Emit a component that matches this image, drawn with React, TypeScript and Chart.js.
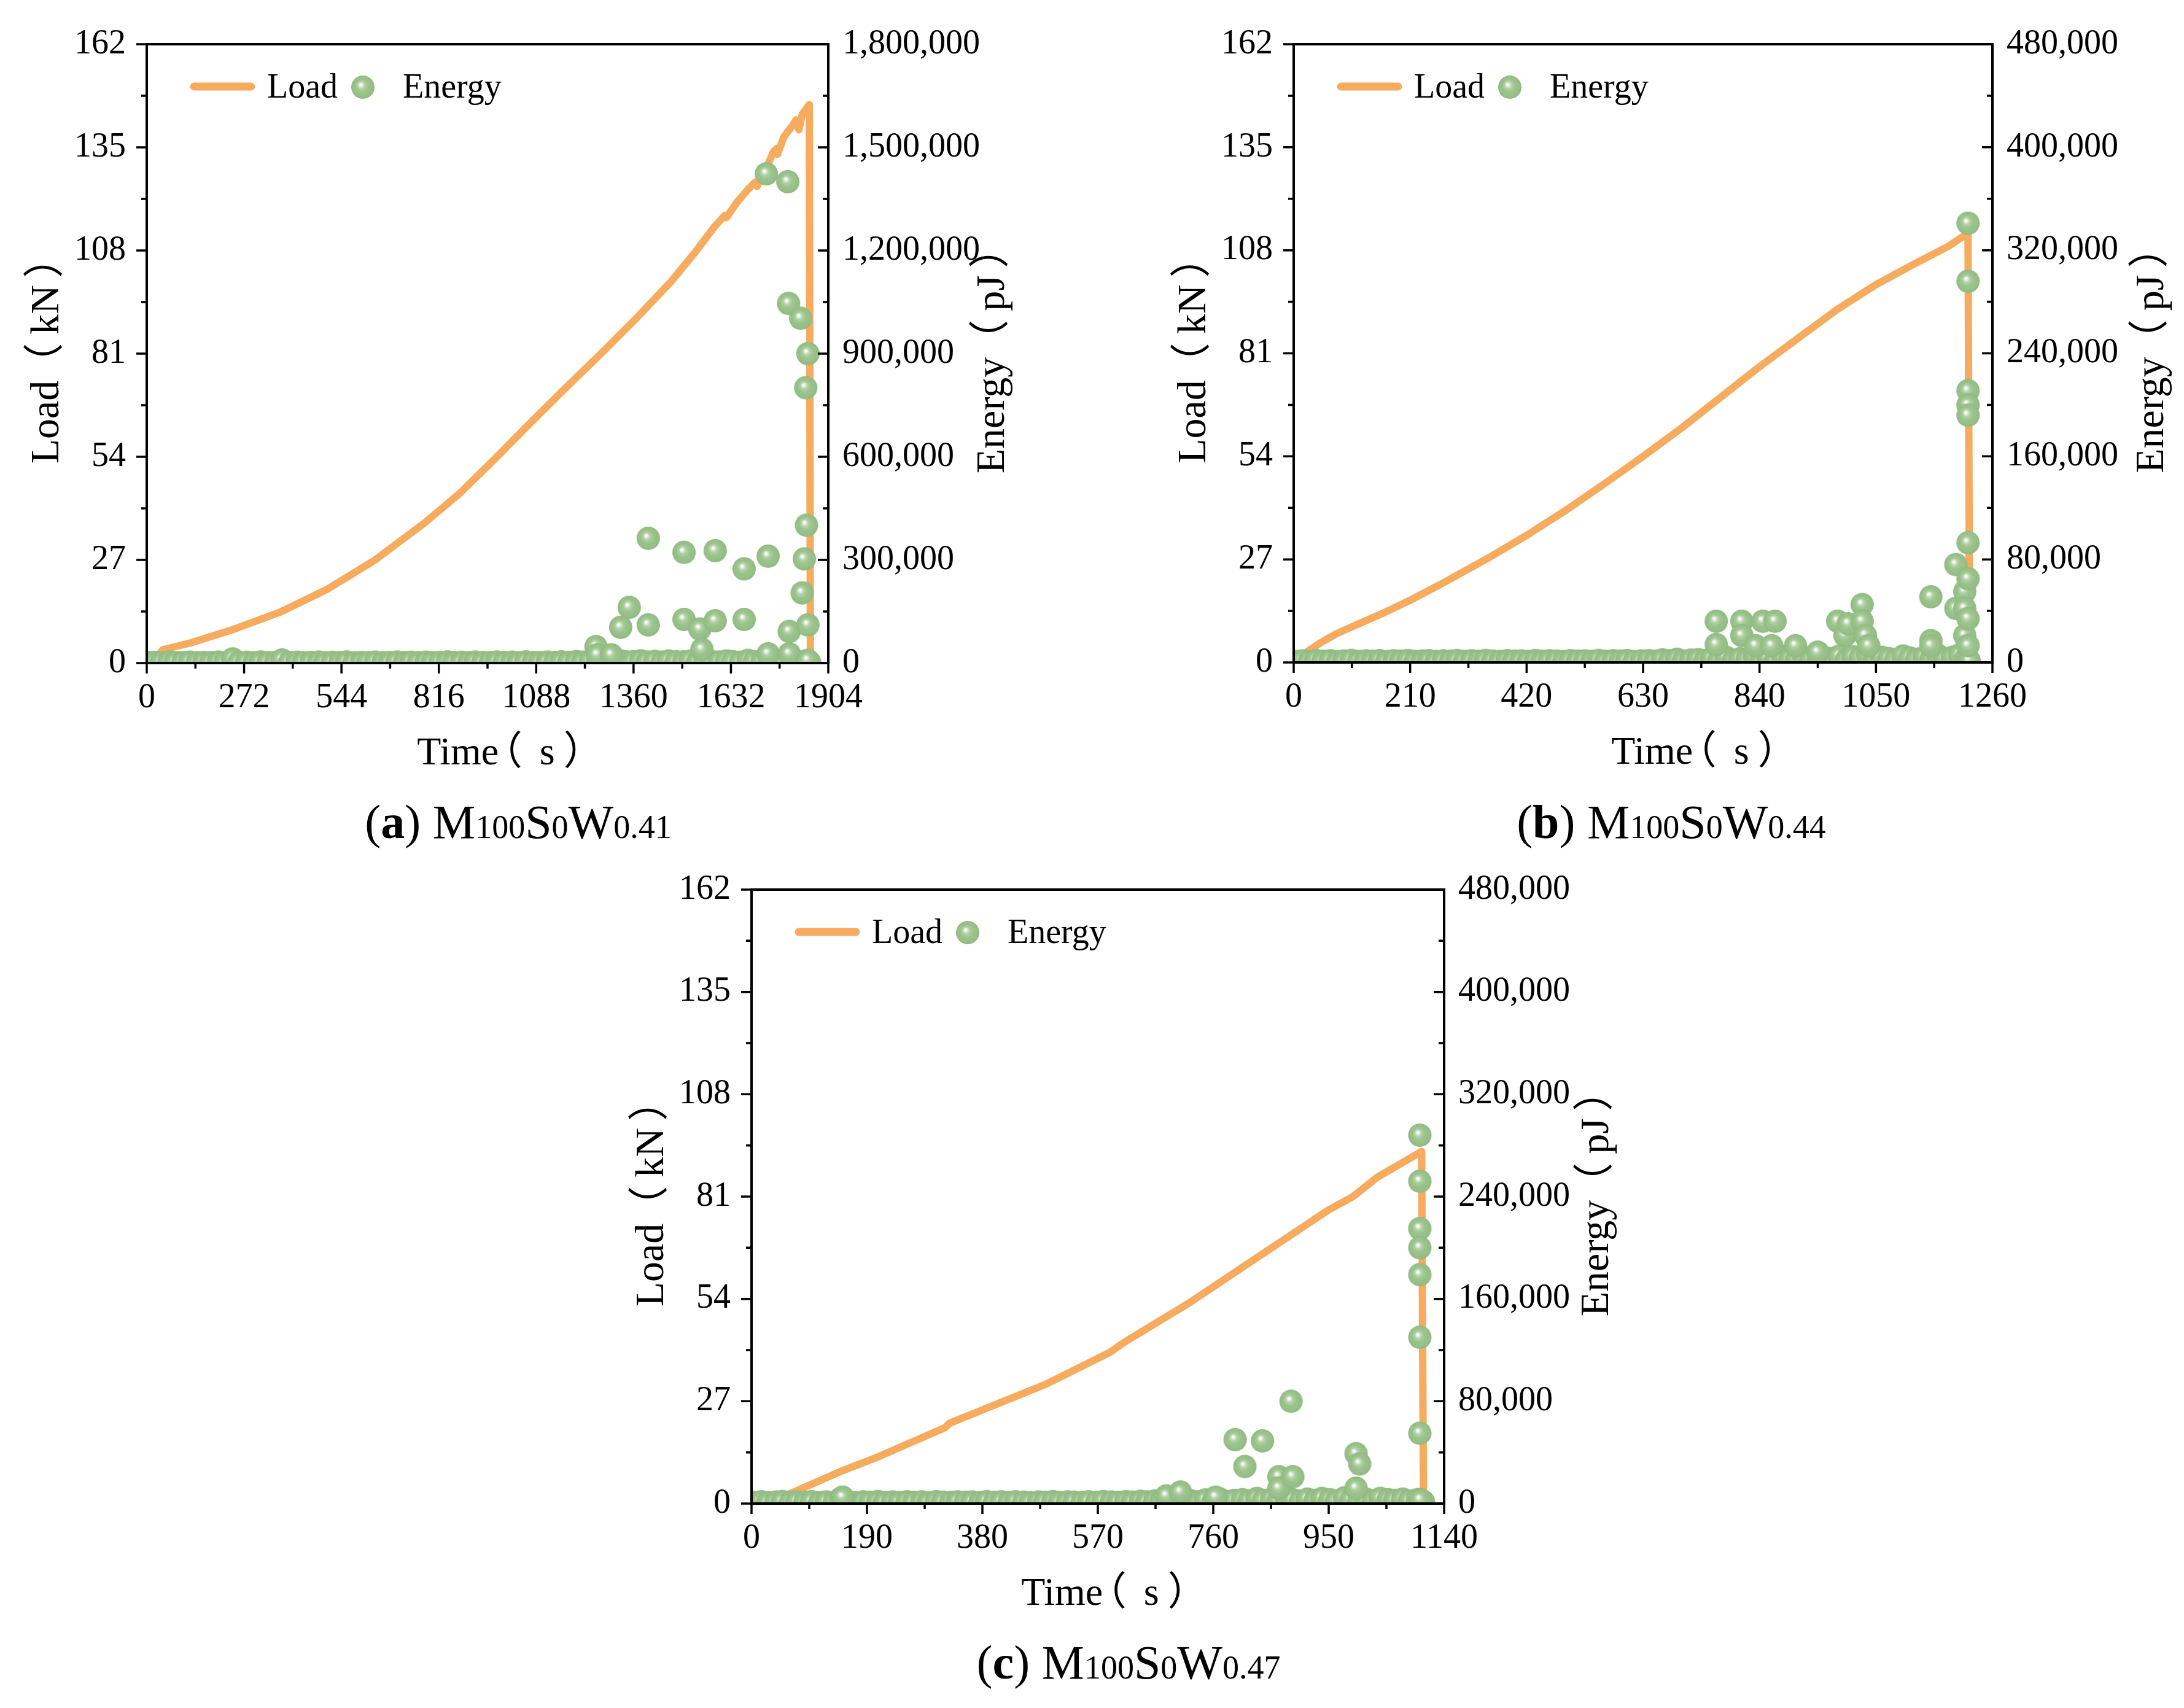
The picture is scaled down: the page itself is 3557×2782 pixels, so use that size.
import React, { useEffect, useRef } from 'react';
import { Chart, registerables } from 'chart.js';

Chart.register(...registerables);

const FONT_FAMILY = '"Liberation Serif", "Noto Sans CJK SC", serif';
const LATIN_FONT = '"Liberation Serif"';
const CJK_FONT = '"Noto Sans CJK SC"';
const ORANGE = '#F7AB5E';
const MAJOR = 17;
const MINOR = 9;
const SPHERE_R = 19;

// ---------- Panel (a) M100S0W0.41 ----------
const loadTimeA = [15, 45, 123, 242, 372, 504, 635, 775, 874, 973, 1071, 1170, 1269, 1367, 1466, 1530, 1585, 1615, 1619, 1648, 1677, 1700, 1705, 1734, 1751, 1760, 1762, 1780, 1803, 1814, 1822, 1831, 1851, 1854];
const loadValueA = [0, 3.5, 5.3, 8.8, 13.3, 19.3, 26.8, 36.6, 44.4, 53.5, 62.8, 72.0, 81.0, 90.2, 100.0, 107.3, 114.1, 117.2, 116.6, 120.5, 123.7, 125.9, 124.8, 130.2, 133.9, 134.7, 133.2, 137.7, 140.6, 142.2, 139.6, 143.6, 146.2, 0];
const bandTimeA = [3, 22, 41, 62, 80, 101, 120, 141, 160, 179, 200, 219, 240, 258, 279, 300, 318, 339, 360, 378, 399, 420, 438, 459, 480, 498, 519, 540, 558, 579, 600, 618, 639, 660, 678, 699, 720, 738, 759, 780, 798, 819, 840, 858, 879, 900, 918, 939, 960, 978, 999, 1020, 1038, 1059, 1080, 1098, 1119, 1140, 1158, 1179, 1200, 1218, 1239, 1260, 1278, 1299, 1320, 1338, 1359, 1380, 1398, 1419, 1440, 1458, 1479, 1500, 1518, 1539, 1560, 1578, 1599, 1620, 1638, 1659, 1680, 1698, 1719, 1740, 1758, 1779, 1800, 1818, 1839, 1852];
const bandEnergyA = [1500, 2200, 900, 3000, 1800, 1200, 2600, 1000, 2000, 1400, 2800, 1100, 12000, 1700, 2400, 900, 3100, 1300, 2000, 9000, 1500, 2500, 1000, 1900, 2900, 1200, 2200, 1600, 3200, 1000, 2000, 1400, 2700, 1100, 1800, 3000, 1300, 2300, 1700, 2600, 1000, 2100, 3300, 1500, 2400, 1100, 2800, 1900, 1300, 3100, 1600, 2500, 1200, 3400, 2000, 1400, 2900, 1800, 3600, 2200, 4500, 2600, 6000, 3000, 5500, 2500, 7000, 3500, 4000, 6500, 3000, 5000, 2500, 6000, 4000, 3500, 5500, 2000, 7000, 4500, 3000, 6000, 4000, 2500, 8000, 3500, 5000, 4500, 6500, 3000, 7000, 4000, 5000, 2000];
const peakTimeA = [1255, 1259, 1298, 1324, 1348, 1401, 1401, 1501, 1501, 1545, 1551, 1588, 1588, 1669, 1669, 1731, 1736, 1736, 1791, 1793, 1795, 1795, 1827, 1831, 1837, 1841, 1843, 1847, 1847, 1847];
const peakEnergyA = [48000, 24000, 24000, 104000, 162000, 363000, 111000, 322000, 127000, 99000, 40000, 327000, 123000, 274000, 127000, 1423000, 311000, 27000, 1400000, 1046000, 92000, 27000, 1003000, 204000, 303000, 801000, 401000, 900000, 111000, 8000];

// ---------- Panel (b) M100S0W0.44 ----------
const loadTimeB = [8, 25, 50, 78, 100, 158, 210, 269, 350, 420, 490, 560, 630, 700, 770, 840, 910, 980, 1050, 1120, 1180, 1216, 1219];
const loadValueB = [0, 2.9, 5.3, 7.6, 9.0, 12.7, 16.3, 20.8, 27.3, 33.3, 39.8, 46.8, 54.0, 61.5, 69.5, 77.5, 85.0, 92.5, 99.0, 104.5, 109.0, 112.5, 0];
const bandTimeB = [2, 15, 28, 40, 53, 66, 79, 91, 104, 117, 130, 142, 155, 168, 181, 193, 206, 219, 232, 244, 257, 270, 283, 295, 308, 321, 334, 346, 359, 372, 385, 397, 410, 423, 436, 448, 461, 474, 487, 499, 512, 525, 538, 550, 563, 576, 589, 601, 614, 627, 640, 652, 665, 678, 691, 703, 716, 729, 742, 754, 767, 780, 793, 805, 818, 831, 844, 856, 869, 882, 895, 907, 920, 933, 946, 958, 971, 984, 997, 1009, 1022, 1035, 1048, 1060, 1073, 1086, 1099, 1111, 1124, 1137, 1150, 1162, 1175, 1188, 1201, 1212, 1218];
const bandEnergyB = [800, 1200, 500, 1500, 900, 1300, 600, 1100, 1600, 700, 1200, 900, 1400, 700, 1300, 1000, 1500, 800, 1100, 1400, 700, 1200, 1000, 1500, 800, 1300, 900, 1600, 1100, 700, 1400, 1000, 1200, 800, 1500, 900, 1300, 1100, 700, 1400, 1000, 1200, 800, 1600, 900, 1300, 1100, 1500, 700, 1200, 1400, 1000, 2000, 1300, 2500, 1100, 1800, 2200, 1500, 3000, 2000, 4000, 1500, 3000, 2500, 5000, 2000, 3500, 1500, 4500, 3000, 2000, 4000, 2500, 1500, 3500, 3000, 5000, 2000, 4500, 3500, 6000, 2500, 4000, 3000, 2000, 5000, 3500, 2500, 4000, 3000, 5500, 2500, 4000, 6000, 3000, 1500];
const peakTimeB = [762, 762, 808, 808, 833, 846, 862, 868, 905, 945, 981, 994, 1000, 1025, 1025, 1031, 1037, 1149, 1149, 1149, 1194, 1194, 1210, 1210, 1210, 1216, 1216, 1216, 1216, 1216, 1216, 1216, 1216, 1216];
const peakEnergyB = [32000, 14000, 32000, 21000, 13000, 32000, 13000, 32000, 13000, 8000, 32000, 21000, 30000, 45000, 32000, 21000, 13000, 51000, 17000, 13000, 76000, 42000, 55000, 42000, 21000, 341000, 296000, 211000, 200000, 192000, 93000, 65000, 34000, 13000];

// ---------- Panel (c) M100S0W0.47 ----------
const loadTimeC = [25, 69, 150, 208, 318, 326, 486, 590, 613, 718, 833, 949, 990, 1030, 1103, 1106];
const loadValueC = [0, 3.0, 8.7, 12.3, 20.0, 21.2, 31.6, 39.9, 42.5, 52.7, 65.0, 77.4, 81.0, 86.1, 92.9, 0];
const bandTimeC = [3, 16, 27, 40, 51, 64, 75, 88, 99, 112, 123, 136, 147, 160, 171, 184, 195, 208, 219, 232, 243, 256, 267, 280, 291, 304, 315, 328, 339, 352, 363, 376, 387, 400, 411, 424, 435, 448, 459, 472, 483, 496, 507, 520, 531, 544, 555, 568, 579, 592, 603, 616, 627, 640, 651, 664, 675, 688, 699, 712, 723, 736, 747, 760, 771, 784, 795, 808, 819, 832, 843, 856, 867, 880, 891, 904, 915, 928, 939, 952, 963, 976, 987, 1000, 1011, 1024, 1035, 1048, 1059, 1072, 1083, 1096, 1106];
const bandEnergyC = [900, 1400, 700, 1200, 1600, 800, 1300, 1000, 1500, 700, 1200, 900, 4000, 1100, 800, 1300, 1000, 1600, 900, 1200, 800, 1400, 1000, 1300, 700, 1500, 1100, 900, 1300, 1000, 1200, 800, 1500, 1000, 1300, 900, 1400, 1100, 700, 1200, 1000, 1500, 800, 1300, 1100, 900, 1400, 1000, 1600, 1200, 900, 1500, 1100, 1800, 1300, 2000, 2500, 1500, 3000, 1800, 2200, 1400, 2800, 1800, 3500, 1500, 2500, 3000, 2000, 4000, 2500, 3500, 2000, 4500, 3000, 2000, 3500, 2500, 4000, 3000, 2000, 4500, 3000, 2500, 3500, 2000, 4000, 3000, 2500, 3500, 2000, 3000, 1500];
const peakTimeC = [150, 683, 706, 764, 796, 812, 841, 868, 868, 888, 891, 995, 995, 1001, 1100, 1100, 1100, 1100, 1100, 1100, 1100, 1101];
const peakEnergyC = [5000, 6000, 9000, 5000, 50000, 29000, 49000, 21000, 12000, 80000, 21000, 39000, 12000, 31000, 288000, 252000, 215000, 200000, 179000, 130000, 55000, 3000];

// ---------- Axis ranges ----------
const timeMax = [1904, 1260, 1140];
const timeStep = [272, 210, 190];
const loadMax = 162;
const loadStep = 27;
const energyMax = [1800000, 480000, 480000];
const energyStep = [300000, 80000, 80000];

type Part = { t: string; cjk: boolean; gap: number };
const xTitleParts: Part[] = [
  { t: 'Time', cjk: false, gap: 0 },
  { t: '（', cjk: true, gap: 20 },
  { t: 's', cjk: false, gap: 32 },
  { t: '）', cjk: true, gap: 18 },
];
const yTitleParts: Part[] = [
  { t: 'Load', cjk: false, gap: 0 },
  { t: '（', cjk: true, gap: 40 },
  { t: 'kN', cjk: false, gap: 18 },
  { t: '）', cjk: true, gap: 15 },
];
const eTitleParts: Part[] = [
  { t: 'Energy', cjk: false, gap: 0 },
  { t: '（', cjk: true, gap: 40 },
  { t: 'pJ', cjk: false, gap: 18 },
  { t: '）', cjk: true, gap: 15 },
];

const zip = (xs: number[], ys: number[]) => {
  const n = Math.min(xs.length, ys.length);
  const out: { x: number; y: number }[] = [];
  for (let i = 0; i < n; i++) out.push({ x: xs[i], y: ys[i] });
  return out;
};

function makeSphere(r: number) {
  const c = document.createElement('canvas');
  c.width = 2 * r + 2;
  c.height = 2 * r + 2;
  const g = c.getContext('2d') as CanvasRenderingContext2D;
  const cx = r + 1;
  const cy = r + 1;
  const grad = g.createRadialGradient(cx - 0.2 * r, cy - 0.25 * r, 0, cx, cy, r);
  grad.addColorStop(0, '#ffffff');
  grad.addColorStop(0.1, '#f1f7ee');
  grad.addColorStop(0.3, '#b2d2a5');
  grad.addColorStop(0.55, '#9cc38d');
  grad.addColorStop(0.85, '#96bf87');
  grad.addColorStop(1, '#8db87e');
  g.fillStyle = grad;
  g.beginPath();
  g.arc(cx, cy, r, 0, Math.PI * 2);
  g.fill();
  return c;
}

function drawTitle(ctx: CanvasRenderingContext2D, parts: Part[], x: number, y: number, rot: number, size: number) {
  const fonts = parts.map((p) => `${size}px ${p.cjk ? CJK_FONT : LATIN_FONT}`);
  const metrics = parts.map((p, i) => {
    ctx.font = fonts[i];
    const m = ctx.measureText(p.t);
    return { l: m.actualBoundingBoxLeft, r: m.actualBoundingBoxRight };
  });
  let total = 0;
  parts.forEach((p, i) => { total += p.gap + metrics[i].l + metrics[i].r; });
  ctx.save();
  ctx.translate(x, y);
  ctx.rotate(rot);
  ctx.textAlign = 'left';
  ctx.textBaseline = 'alphabetic';
  let cur = -total / 2;
  parts.forEach((p, i) => {
    cur += p.gap;
    ctx.font = fonts[i];
    ctx.fillText(p.t, cur + metrics[i].l, size * 0.33);
    cur += metrics[i].l + metrics[i].r;
  });
  ctx.restore();
}

type Box = { left: number; top: number; width: number; height: number };
type Plot = { left: number; top: number; right: number; bottom: number };

type PanelCfg = {
  idx: number;
  canvas: Box;
  plot: Plot;
  loadT: number[];
  loadV: number[];
  energyT: number[];
  energyV: number[];
  rightTitleOffset: number;
  xTitleShift: number;
};

const panels: PanelCfg[] = [
  {
    idx: 0,
    canvas: { left: 0, top: 0, width: 1780, height: 1290 },
    plot: { left: 239, top: 72, right: 1349, bottom: 1080 },
    loadT: loadTimeA,
    loadV: loadValueA,
    energyT: [...bandTimeA, ...peakTimeA],
    energyV: [...bandEnergyA, ...peakEnergyA],
    rightTitleOffset: 264,
    xTitleShift: 15,
  },
  {
    idx: 1,
    canvas: { left: 1780, top: 0, width: 1777, height: 1290 },
    plot: { left: 2107, top: 72, right: 3245, bottom: 1079 },
    loadT: loadTimeB,
    loadV: loadValueB,
    energyT: [...bandTimeB, ...peakTimeB],
    energyV: [...bandEnergyB, ...peakEnergyB],
    rightTitleOffset: 256,
    xTitleShift: 78,
  },
  {
    idx: 2,
    canvas: { left: 950, top: 1330, width: 1750, height: 1330 },
    plot: { left: 1224, top: 1449, right: 2352, bottom: 2449 },
    loadT: loadTimeC,
    loadV: loadValueC,
    energyT: [...bandTimeC, ...peakTimeC],
    energyV: [...bandEnergyC, ...peakEnergyC],
    rightTitleOffset: 245,
    xTitleShift: 5,
  },
];

function Panel({ cfg }: { cfg: PanelCfg }) {
  const ref = useRef<HTMLCanvasElement | null>(null);
  const cb = cfg.canvas;
  useEffect(() => {
    const canvas = ref.current;
    if (!canvas) return;
    const sphere = makeSphere(SPHERE_R);
    const p = cfg.plot;
    const canvasRight = cb.left + cb.width;
    const canvasBottom = cb.top + cb.height;
    const tickFont = { family: FONT_FAMILY, size: 56 };

    const deco = {
      id: 'deco',
      afterDatasetsDraw(chart: any) {
        const ctx: CanvasRenderingContext2D = chart.ctx;
        const a = chart.chartArea;
        const sx = chart.scales.x;
        const sy = chart.scales.y;
        const se = chart.scales.y2;
        ctx.save();
        ctx.strokeStyle = '#000';
        ctx.lineCap = 'butt';
        ctx.lineWidth = 3.5;
        ctx.beginPath();
        const each = (scale: any, fn: (px: number, len: number) => void) => {
          const v = scale.ticks.map((t: any) => t.value);
          v.forEach((val: number) => fn(scale.getPixelForValue(val), MAJOR));
          for (let i = 0; i < v.length - 1; i++) fn(scale.getPixelForValue((v[i] + v[i + 1]) / 2), MINOR);
        };
        each(sy, (px, len) => { ctx.moveTo(a.left, px); ctx.lineTo(a.left - len, px); });
        each(sx, (px, len) => { ctx.moveTo(px, a.bottom); ctx.lineTo(px, a.bottom + len); });
        each(se, (px, len) => { ctx.moveTo(a.right, px); ctx.lineTo(a.right - len, px); });
        ctx.stroke();
        ctx.lineWidth = 4;
        ctx.strokeRect(a.left, a.top, a.right - a.left, a.bottom - a.top);

        // axis titles
        ctx.fillStyle = '#000';
        const cx = (a.left + a.right) / 2;
        const cy = (a.top + a.bottom) / 2;
        drawTitle(ctx, xTitleParts, cx + cfg.xTitleShift, a.bottom + 144, 0, 64);
        drawTitle(ctx, yTitleParts, a.left - 166, cy + 17, -Math.PI / 2, 66);
        drawTitle(ctx, eTitleParts, a.right + cfg.rightTitleOffset, cy + 17, -Math.PI / 2, 66);

        // legend
        ctx.strokeStyle = ORANGE;
        ctx.lineWidth = 13;
        ctx.lineCap = 'round';
        ctx.beginPath();
        ctx.moveTo(a.left + 77, a.top + 69);
        ctx.lineTo(a.left + 170, a.top + 69);
        ctx.stroke();
        ctx.font = `56px ${FONT_FAMILY}`;
        ctx.textAlign = 'left';
        ctx.textBaseline = 'alphabetic';
        ctx.fillText('Load', a.left + 196, a.top + 87);
        ctx.drawImage(sphere, a.left + 352 - sphere.width / 2, a.top + 70 - sphere.height / 2);
        ctx.fillText('Energy', a.left + 417, a.top + 87);
        ctx.restore();
      },
    };

    const chart = new Chart(canvas, {
      type: 'scatter',
      data: {
        datasets: [
          {
            label: 'Load',
            data: zip(cfg.loadT, cfg.loadV),
            showLine: true,
            borderColor: ORANGE,
            backgroundColor: ORANGE,
            borderWidth: 12,
            borderJoinStyle: 'round',
            pointRadius: 0,
            pointHoverRadius: 0,
            tension: 0,
            yAxisID: 'y',
            order: 1,
          } as any,
          {
            label: 'Energy',
            data: zip(cfg.energyT, cfg.energyV),
            pointStyle: sphere,
            pointRadius: SPHERE_R,
            pointHoverRadius: SPHERE_R,
            showLine: false,
            yAxisID: 'y2',
            order: 0,
            clip: 0,
          } as any,
        ],
      },
      options: {
        animation: false,
        responsive: false,
        devicePixelRatio: 1,
        events: [],
        layout: { padding: { top: p.top - cb.top, left: 0, right: 0, bottom: 0 } },
        plugins: { legend: { display: false }, tooltip: { enabled: false } },
        scales: {
          x: {
            type: 'linear',
            min: 0,
            max: timeMax[cfg.idx],
            ticks: {
              stepSize: timeStep[cfg.idx],
              font: tickFont,
              color: '#000',
              padding: 24,
              maxRotation: 0,
              autoSkip: false,
              callback: (v: any) => String(v),
            },
            grid: { display: false, drawTicks: false },
            border: { display: false },
            afterFit: (s: any) => { s.height = canvasBottom - p.bottom; },
          },
          y: {
            type: 'linear',
            position: 'left',
            min: 0,
            max: loadMax,
            ticks: { stepSize: loadStep, font: tickFont, color: '#000', padding: 34, autoSkip: false, callback: (v: any) => String(v) },
            grid: { display: false, drawTicks: false },
            border: { display: false },
            afterFit: (s: any) => { s.width = p.left - cb.left; },
          },
          y2: {
            type: 'linear',
            position: 'right',
            min: 0,
            max: energyMax[cfg.idx],
            ticks: {
              stepSize: energyStep[cfg.idx],
              font: tickFont,
              color: '#000',
              padding: 23,
              autoSkip: false,
              callback: (v: any) => Number(v).toLocaleString('en-US'),
            },
            grid: { display: false, drawTicks: false },
            border: { display: false },
            afterFit: (s: any) => { s.width = canvasRight - p.right; },
          },
        },
      } as any,
      plugins: [deco as any],
    });
    return () => chart.destroy();
  }, [cfg]);
  return (
    <canvas
      ref={ref}
      width={cb.width}
      height={cb.height}
      style={{ position: 'absolute', left: cb.left, top: cb.top, width: cb.width, height: cb.height }}
    />
  );
}

function Caption({ letter, w, centerX, baseline }: { letter: string; w: string; centerX: number; baseline: number }) {
  const small = { fontSize: 54 };
  return (
    <div
      style={{
        position: 'absolute',
        left: centerX - 500,
        width: 1000,
        top: baseline - 65,
        textAlign: 'center',
        fontFamily: '"Liberation Serif", serif',
        fontSize: 78,
        lineHeight: 1,
        whiteSpace: 'nowrap',
        color: '#000',
      }}
    >
      (<b>{letter}</b>) M<span style={small}>100</span>S<span style={small}>0</span>W<span style={small}>{w}</span>
    </div>
  );
}

export default function App() {
  return (
    <div style={{ position: 'absolute', left: 0, top: 0, width: 3557, height: 2782, background: '#fff', overflow: 'hidden' }}>
      {panels.map((cfg) => (
        <Panel key={cfg.idx} cfg={cfg} />
      ))}
      <Caption letter="a" w="0.41" centerX={844} baseline={1365} />
      <Caption letter="b" w="0.44" centerX={2722} baseline={1365} />
      <Caption letter="c" w="0.47" centerX={1838} baseline={2734} />
    </div>
  );
}
